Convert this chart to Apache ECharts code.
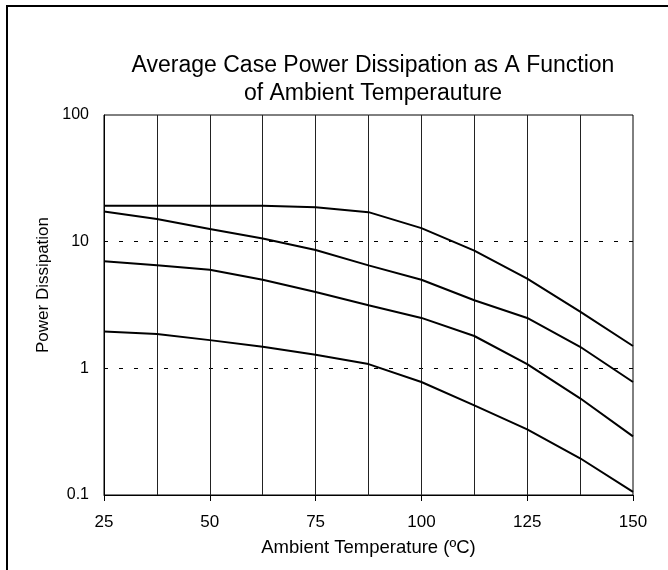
<!DOCTYPE html>
<html>
<head>
<meta charset="utf-8">
<title>Average Case Power Dissipation</title>
<script src="https://cdn.jsdelivr.net/npm/echarts@6/dist/echarts.min.js"></script>
<style>
    html, body {margin: 0; padding: 0; background: #fff;}
    #myCharts1 {width: 668px; height: 570px;}
</style>
</head>
<body>
<div id="myCharts1"></div>
<script>
// ambient temperature (ºC)
var temps = [25, 37.5, 50, 62.5, 75, 87.5, 100, 112.5, 125, 137.5, 150];
// power dissipation, top curve to bottom curve
var curve1 = [19.2, 19.2, 19.2, 19.2, 18.7, 17.1, 12.8, 8.5, 5.1, 2.8, 1.5];
var curve2 = [17.3, 15.1, 12.6, 10.6, 8.6, 6.5, 5.0, 3.45, 2.5, 1.48, 0.78];
var curve3 = [7.0, 6.5, 6.0, 5.0, 4.0, 3.15, 2.5, 1.8, 1.08, 0.58, 0.29];
var curve4 = [1.95, 1.87, 1.67, 1.48, 1.28, 1.08, 0.78, 0.51, 0.33, 0.195, 0.106];

var fontName = "Liberation Sans, Arial, sans-serif";

function toPairs(vals){
    var pairs = [];
    for(var i = 0; i < temps.length; i++){
        pairs.push([temps[i], vals[i]]);
    }
    return pairs;
}

function lineSeries(vals){
    return {
        type: 'line',
        data: toPairs(vals),
        showSymbol: false,
        silent: true,
        lineStyle: {color: '#000', width: 2},
        z: 5
    };
}

function initCharts(idName){
    var myChart = echarts.init(document.getElementById(idName));

    var option = {
        backgroundColor: '#fff',
        animation: false,
        title: {
            text: 'Average Case Power Dissipation as A Function\nof Ambient Temperauture',
            left: 368,
            top: 47,
            textAlign: 'center',
            textStyle: {
                fontFamily: fontName,
                fontSize: 23,
                fontWeight: 'normal',
                color: '#000',
                lineHeight: 28
            }
        },
        grid: {
            left: 104,
            right: 35,
            top: 115,
            bottom: 75,
            show: true,
            borderColor: '#000',
            borderWidth: 1
        },
        xAxis: {
            type: 'value',
            min: 25,
            max: 150,
            interval: 25,
            name: 'Ambient Temperature (ºC)',
            nameLocation: 'middle',
            nameGap: 43,
            nameTextStyle: {fontFamily: fontName, fontSize: 18.5, color: '#000'},
            axisLine: {lineStyle: {color: '#000', width: 1}},
            axisTick: {show: true, length: 6, lineStyle: {color: '#000'}},
            axisLabel: {fontFamily: fontName, fontSize: 17, color: '#000', margin: 19},
            splitLine: {show: true, showMinLine: false, showMaxLine: false, lineStyle: {color: '#222', width: 1}},
            minorTick: {show: false, splitNumber: 2},
            minorSplitLine: {show: true, lineStyle: {color: '#222', width: 1}}
        },
        yAxis: {
            type: 'log',
            logBase: 10,
            min: 0.1,
            max: 100,
            name: 'Power Dissipation',
            nameLocation: 'middle',
            nameGap: 52,
            nameTextStyle: {fontFamily: fontName, fontSize: 17, color: '#000', padding: [0, 0, 0, 40]},
            axisLine: {show: true, lineStyle: {color: '#000', width: 1}},
            axisTick: {show: false},
            axisLabel: {fontFamily: fontName, fontSize: 16, color: '#000', margin: 15},
            splitLine: {show: true, showMinLine: false, showMaxLine: false, lineStyle: {color: '#000', width: 1, type: [4, 11]}}
        },
        graphic: [
            {
                type: 'polyline',
                shape: {points: [[7, 570], [7, 6], [668, 6]]},
                style: {stroke: '#000', lineWidth: 2, fill: null},
                silent: true
            }
        ],
        series: [
            lineSeries(curve1),
            lineSeries(curve2),
            lineSeries(curve3),
            lineSeries(curve4)
        ]
    };
    myChart.setOption(option);
}

initCharts("myCharts1");
</script>
</body>
</html>
